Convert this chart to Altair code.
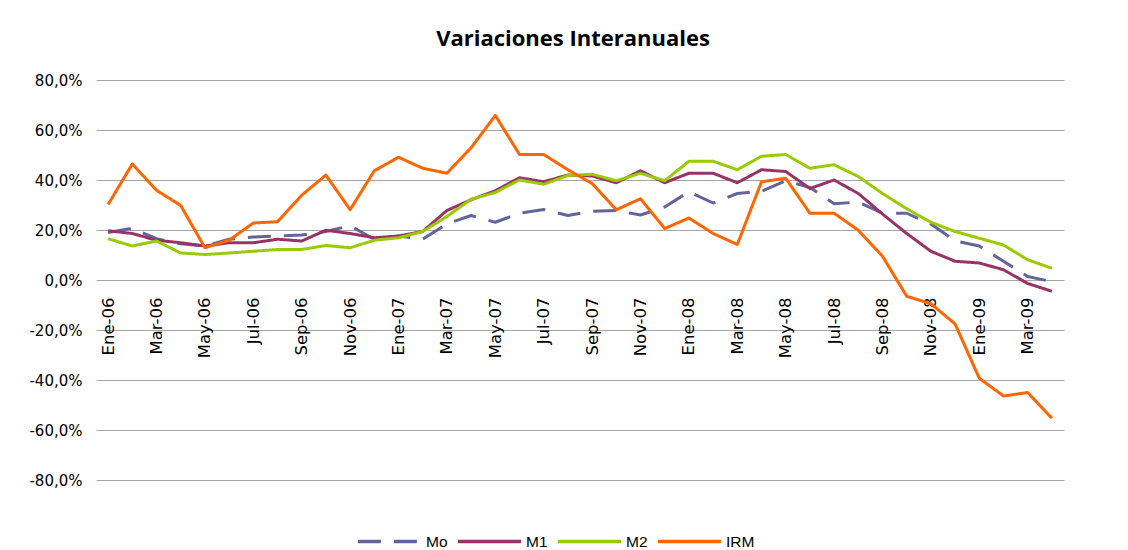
import altair as alt
import pandas as pd

months = [
    "Ene-06", "Feb-06", "Mar-06", "Abr-06", "May-06", "Jun-06", "Jul-06", "Ago-06", "Sep-06", "Oct-06", "Nov-06", "Dic-06",
    "Ene-07", "Feb-07", "Mar-07", "Abr-07", "May-07", "Jun-07", "Jul-07", "Ago-07", "Sep-07", "Oct-07", "Nov-07", "Dic-07",
    "Ene-08", "Feb-08", "Mar-08", "Abr-08", "May-08", "Jun-08", "Jul-08", "Ago-08", "Sep-08", "Oct-08", "Nov-08", "Dic-08",
    "Ene-09", "Feb-09", "Mar-09", "Abr-09",
]

mo = [19.0, 20.7, 16.5, 14.5, 13.6, 16.3, 17.2, 17.6, 18.0, 19.4, 21.7, 16.3,
      17.6, 16.3, 22.4, 25.8, 23.1, 26.7, 28.2, 25.8, 27.5, 27.8, 26.0, 29.2,
      35.3, 30.8, 34.6, 35.5, 39.7, 37.0, 30.5, 31.2, 26.7, 26.7, 22.4, 15.6,
      13.6, 7.5, 1.4, -0.7]

m1 = [19.7, 18.6, 15.9, 14.9, 13.6, 14.9, 14.9, 16.3, 15.6, 19.9, 18.6, 16.9,
      17.6, 19.4, 27.8, 32.1, 35.7, 40.9, 39.3, 42.0, 41.6, 38.9, 43.7, 38.9,
      42.7, 42.7, 38.9, 44.1, 43.4, 36.6, 40.0, 34.6, 26.4, 18.6, 11.5, 7.5,
      6.8, 4.1, -1.4, -4.5]

m2 = [16.5, 13.6, 15.6, 10.8, 10.2, 10.8, 11.5, 12.2, 12.2, 13.8, 12.9, 15.9,
      16.9, 19.4, 25.4, 32.3, 35.0, 40.0, 38.3, 41.8, 42.3, 39.7, 42.7, 39.7,
      47.5, 47.5, 44.1, 49.5, 50.2, 44.7, 46.1, 41.4, 34.6, 28.5, 23.1, 19.4,
      16.7, 14.0, 8.1, 4.7]

irm = [30.2, 46.4, 35.9, 29.8, 12.9, 15.9, 22.8, 23.3, 33.9, 42.0, 28.1, 43.7,
       49.1, 44.7, 42.7, 52.9, 65.8, 50.2, 50.2, 44.1, 38.6, 28.1, 32.5, 20.6,
       24.8, 18.6, 14.2, 39.3, 40.7, 26.7, 26.7, 19.9, 9.5, -6.5, -9.5, -17.6,
       -39.3, -46.4, -45.0, -55.3]

series_names = ["Mo", "M1", "M2", "IRM"]
series_colors = ["#64649C", "#993366", "#99CC00", "#FF6600"]
series_dash = [[23, 13], [1, 0], [1, 0], [1, 0]]
y_ticks = [-80, -60, -40, -20, 0, 20, 40, 60, 80]
x_label_months = months[::2]

rows = []
for name, vals in zip(series_names, [mo, m1, m2, irm]):
    for mname, v in zip(months, vals):
        rows.append({"mes": mname, "serie": name, "valor": v, "orden": series_names.index(name)})
df = pd.DataFrame(rows)

PLOT_W = 968
PLOT_H = 400
SYM = 4000  # stroke symbol area -> about 63px long

legend_kw = dict(
    title=None,
    orient="none",
    direction="horizontal",
    legendX=260,
    legendY=428,
    symbolType="stroke",
    symbolSize=SYM,
    symbolStrokeWidth=3.5,
    labelFont="Liberation Sans",
    labelFontSize=15.5,
    labelColor="#000000",
    labelOffset=3,
    columnPadding=2,
)

chart = alt.Chart(df).mark_line(strokeWidth=3, strokeJoin="round").encode(
    x=alt.X(
        "mes:N",
        sort=months,
        scale=alt.Scale(paddingInner=0, paddingOuter=0),
        axis=alt.Axis(
            title=None,
            values=x_label_months,
            labelAngle=-90,
            labelFont="DejaVu Sans",
            labelFontSize=16.5,
            labelColor="#000000",
            labelPadding=17,
            ticks=False,
            domain=False,
            grid=False,
            offset=-PLOT_H / 2,
        ),
    ),
    y=alt.Y(
        "valor:Q",
        scale=alt.Scale(domain=[-80, 80], nice=False),
        axis=alt.Axis(
            title=None,
            values=y_ticks,
            labelExpr="(datum.value < 0 ? '-' : '') + replace(format(abs(datum.value), '.1f'), '.', ',') + '%'",
            labelFont="DejaVu Sans",
            labelFontSize=15,
            labelColor="#000000",
            labelPadding=14,
            ticks=False,
            domain=False,
            grid=True,
            gridColor="#A6A6A6",
            gridWidth=1.2,
        ),
    ),
    color=alt.Color(
        "serie:N",
        sort=series_names,
        scale=alt.Scale(domain=series_names, range=series_colors),
        legend=alt.Legend(**legend_kw),
    ),
    strokeDash=alt.StrokeDash(
        "serie:N",
        sort=series_names,
        scale=alt.Scale(domain=series_names, range=series_dash),
        legend=alt.Legend(**legend_kw),
    ),
    order=alt.Order("orden:Q"),
).properties(
    width=PLOT_W,
    height=PLOT_H,
    background="#FFFFFF",
    title=alt.TitleParams(
        "Variaciones Interanuales",
        font="Open Sans",
        fontSize=22,
        fontWeight="bold",
        color="#000000",
        anchor="middle",
        offset=22,
        dx=-7,
    ),
    autosize=alt.AutoSizeParams(type="none"),
    padding={"left": 88, "top": 72, "right": 40, "bottom": 73},
).configure_view(
    stroke=None
)

chart.save("out.html", embed_options={"renderer": "svg", "actions": False})
